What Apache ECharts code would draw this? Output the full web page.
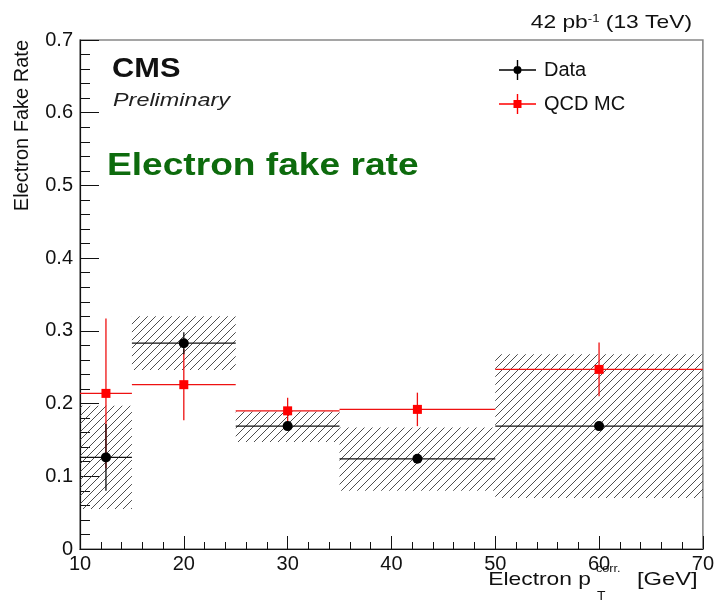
<!DOCTYPE html>
<html>
<head>
<meta charset="utf-8">
<script src="https://cdn.jsdelivr.net/npm/echarts@6/dist/echarts.min.js"></script>
<style>
html, body { margin: 0; padding: 0; background: #fff; }
#chart { width: 717px; height: 604px; }
</style>
</head>
<body>
<div id="chart"></div>
<script>
// bins in electron pT (GeV)
const binLo = [10, 15, 25, 35, 50];
const binHi = [15, 25, 35, 50, 70];

// data points
const dataX = [12.5, 20, 30, 42.5, 60];
const dataY = [0.126, 0.283, 0.169, 0.124, 0.169];
const dataErr = [0.046, 0.015, 0.005, 0.005, 0.005];

// systematic band (hatched)
const sysLo = [0.055, 0.246, 0.147, 0.080, 0.070];
const sysHi = [0.197, 0.320, 0.189, 0.167, 0.268];

// QCD MC
const mcX = [12.5, 20, 30, 42.5, 60];
const mcY = [0.214, 0.226, 0.190, 0.192, 0.247];
const mcErr = [0.103, 0.049, 0.018, 0.023, 0.037];

const yLabels = ['0', '0.1', '0.2', '0.3', '0.4', '0.5', '0.6', '0.7'];
const xLabels = ['10', '20', '30', '40', '50', '60', '70'];

const FONT = 'Liberation Sans, Arial, Helvetica, sans-serif';
const RED = '#ee1111';

// hatch pattern for the band
const hatch = document.createElement('canvas');
hatch.width = 8;
hatch.height = 8;
(function () {
	const ctx = hatch.getContext('2d');
	ctx.strokeStyle = '#3a3a3a';
	ctx.lineWidth = 0.9;
	ctx.beginPath();
	ctx.moveTo(-1, 9); ctx.lineTo(9, -1);
	ctx.moveTo(-1, 1); ctx.lineTo(1, -1);
	ctx.moveTo(7, 9); ctx.lineTo(9, 7);
	ctx.stroke();
})();

function renderBand(params, api) {
	const p0 = api.coord([api.value(0), api.value(3)]);
	const p1 = api.coord([api.value(1), api.value(2)]);
	return {
		type: 'rect',
		shape: { x: p0[0], y: p0[1], width: p1[0] - p0[0], height: p1[1] - p0[1] },
		style: { fill: { image: hatch, repeat: 'repeat' }, stroke: null }
	};
}

function renderErr(color) {
	return function (params, api) {
		const x = api.value(0), lo = api.value(1), hi = api.value(2);
		const y = api.value(3), e = api.value(4);
		const a = api.coord([lo, y]), b = api.coord([hi, y]);
		const c = api.coord([x, y - e]), d = api.coord([x, y + e]);
		return {
			type: 'group',
			children: [
				{ type: 'line', shape: { x1: a[0], y1: a[1], x2: b[0], y2: b[1] }, style: { stroke: color, lineWidth: 1.3 } },
				{ type: 'line', shape: { x1: c[0], y1: c[1], x2: d[0], y2: d[1] }, style: { stroke: color, lineWidth: 1.3 } }
			]
		};
	};
}

const bandData = binLo.map((lo, i) => [lo, binHi[i], sysLo[i], sysHi[i]]);
const mcErrData = mcX.map((x, i) => [x, binLo[i], binHi[i], mcY[i], mcErr[i]]);
const dataErrData = dataX.map((x, i) => [x, binLo[i], binHi[i], dataY[i], dataErr[i]]);

const iconData = 'path://M0,9.3h37v1.4H0z M17.8,0h1.4v20h-1.4z M14.5,10a4,4 0 1,1 8,0a4,4 0 1,1 -8,0z';
const iconMC = 'path://M0,9.3h37v1.4H0z M17.8,0h1.4v20h-1.4z M14.5,6h8v8h-8z';

const axisCommon = {
	type: 'value',
	axisLine: { lineStyle: { color: '#111', width: 1.2 } },
	splitLine: { show: false },
	axisLabel: { color: '#111', fontSize: 20, fontFamily: FONT },
	minorSplitLine: { show: false }
};

const myChart = echarts.init(document.getElementById('chart'));

const option = {
	animation: false,
	grid: { left: 80, right: 10, top: 40, bottom: 55, show: true, borderColor: '#888', borderWidth: 1.6 },
	legend: {
		orient: 'vertical',
		left: 494,
		top: 55,
		itemWidth: 37,
		itemHeight: 20,
		itemGap: 14,
		textStyle: { fontSize: 20, color: '#111', fontFamily: FONT, padding: [4, 0, 0, 3] },
		data: [
			{ name: 'Data', icon: iconData },
			{ name: 'QCD MC', icon: iconMC }
		]
	},
	xAxis: Object.assign({}, axisCommon, {
		min: 10, max: 70, interval: 10,
		axisTick: { inside: true, length: 13, lineStyle: { color: '#111' } },
		minorTick: { show: true, splitNumber: 5, length: 7, lineStyle: { color: '#111' } },
		axisLabel: Object.assign({}, axisCommon.axisLabel, {
			margin: 5,
			formatter: (v, i) => xLabels[i]
		})
	}),
	yAxis: Object.assign({}, axisCommon, {
		min: 0, max: 0.7, interval: 0.1,
		axisTick: { inside: true, length: 19, lineStyle: { color: '#111' } },
		minorTick: { show: true, splitNumber: 5, length: 10, lineStyle: { color: '#111' } },
		axisLabel: Object.assign({}, axisCommon.axisLabel, {
			margin: 7,
			formatter: (v, i) => yLabels[i]
		})
	}),
	graphic: [
		{ type: 'text', x: 692, y: 23, scaleX: 1.2, style: { text: '{a|42 pb}{s|-1}{a| (13 TeV)}', align: 'right', verticalAlign: 'middle', textAlign: 'right', textVerticalAlign: 'middle', fill: '#111', rich: { a: { fontSize: 19, fontFamily: FONT, fill: '#111' }, s: { fontSize: 11, fontFamily: FONT, fill: '#111', verticalAlign: 'top', padding: [0, 0, 8, 0] } } } },
		{ type: 'text', x: 112, y: 69, scaleX: 1.1, style: { text: 'CMS', font: 'bold 28px ' + FONT, fill: '#111', align: 'left', verticalAlign: 'middle', textAlign: 'left', textVerticalAlign: 'middle' } },
		{ type: 'text', x: 113, y: 101, scaleX: 1.3, style: { text: 'Preliminary', font: 'italic 18px ' + FONT, fill: '#222', align: 'left', verticalAlign: 'middle', textAlign: 'left', textVerticalAlign: 'middle' } },
		{ type: 'text', x: 107, y: 166, scaleX: 1.16, style: { text: 'Electron fake rate', font: 'bold 32px ' + FONT, fill: '#0d6b0d', align: 'left', verticalAlign: 'middle', textAlign: 'left', textVerticalAlign: 'middle' } },
		{ type: 'text', x: 22, y: 40, rotation: Math.PI / 2, style: { text: 'Electron Fake Rate', font: '20px ' + FONT, fill: '#111', align: 'right', verticalAlign: 'middle', textAlign: 'right', textVerticalAlign: 'middle' } },
		{ type: 'text', x: 591, y: 580, scaleX: 1.2, style: { text: 'Electron p', font: '19px ' + FONT, fill: '#111', align: 'right', verticalAlign: 'middle', textAlign: 'right', textVerticalAlign: 'middle' } },
		{ type: 'text', x: 596, y: 569, scaleX: 1.15, style: { text: 'corr.', font: '11px ' + FONT, fill: '#111', align: 'left', verticalAlign: 'middle', textAlign: 'left', textVerticalAlign: 'middle' } },
		{ type: 'text', x: 597, y: 597, scaleX: 1.15, style: { text: 'T', font: '12px ' + FONT, fill: '#111', align: 'left', verticalAlign: 'middle', textAlign: 'left', textVerticalAlign: 'middle' } },
		{ type: 'text', x: 637, y: 580, scaleX: 1.25, style: { text: '[GeV]', font: '19px ' + FONT, fill: '#111', align: 'left', verticalAlign: 'middle', textAlign: 'left', textVerticalAlign: 'middle' } }
	],
	series: [
		{ name: 'band', type: 'custom', renderItem: renderBand, data: bandData, z: 1, silent: true },
		{ name: 'mcErr', type: 'custom', renderItem: renderErr(RED), data: mcErrData, z: 2, silent: true },
		{ name: 'QCD MC', type: 'scatter', symbol: 'rect', symbolSize: 9, itemStyle: { color: '#ff0000', opacity: 1 }, data: mcX.map((x, i) => [x, mcY[i]]), z: 3 },
		{ name: 'dataErr', type: 'custom', renderItem: renderErr('#111'), data: dataErrData, z: 4, silent: true },
		{ name: 'Data', type: 'scatter', symbol: 'circle', symbolSize: 10, itemStyle: { color: '#000', opacity: 1 }, data: dataX.map((x, i) => [x, dataY[i]]), z: 5 }
	]
};

myChart.setOption(option);
</script>
</body>
</html>
